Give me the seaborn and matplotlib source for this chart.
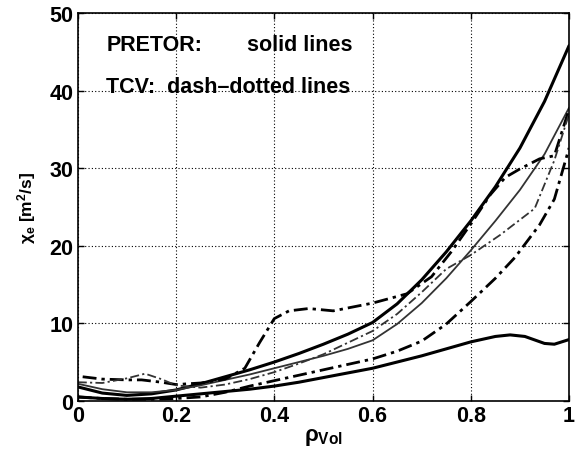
import numpy as np
import pandas as pd
import matplotlib
matplotlib.use("Agg")
import matplotlib.pyplot as plt
import seaborn as sns

# ---- data ----
x_grid = [0.0, 0.05, 0.1, 0.15, 0.2, 0.25, 0.3, 0.35, 0.4, 0.45, 0.5,
          0.55, 0.6, 0.65, 0.7, 0.75, 0.8, 0.85, 0.9, 0.95, 1.0]

pretor_top = [1.8, 1.0, 0.7, 0.9, 1.4, 2.2, 3.1, 4.0, 5.0, 6.1, 7.3,
              8.6, 10.1, 12.5, 15.6, 19.2, 23.2, 27.6, 32.6, 38.6, 45.8]
pretor_mid = [2.2, 1.5, 1.1, 1.1, 1.4, 2.0, 2.7, 3.4, 4.2, 5.0, 5.8,
              6.7, 7.8, 9.9, 12.6, 15.8, 19.4, 23.2, 27.2, 31.8, 37.8]
x_bottom = [0.0, 0.05, 0.1, 0.15, 0.2, 0.25, 0.3, 0.35, 0.4, 0.45, 0.5,
            0.55, 0.6, 0.65, 0.7, 0.75, 0.8, 0.85, 0.88, 0.91, 0.95, 0.97, 1.0]
pretor_bot = [0.5, 0.3, 0.2, 0.3, 0.6, 0.9, 1.2, 1.5, 1.9, 2.4, 3.0,
              3.6, 4.2, 5.0, 5.8, 6.7, 7.6, 8.3, 8.5, 8.3, 7.4, 7.3, 7.9]

x_tcv1 = [0.01, 0.05, 0.1, 0.13, 0.17, 0.2, 0.25, 0.3, 0.34, 0.37, 0.4, 0.43,
          0.47, 0.52, 0.56, 0.6, 0.67, 0.72, 0.76, 0.8, 0.84, 0.87, 0.9,
          0.94, 0.97, 1.0]
tcv1 = [3.1, 2.8, 2.7, 2.7, 2.4, 2.1, 2.3, 2.8, 4.2, 7.5, 10.6, 11.6,
        11.9, 11.6, 12.1, 12.6, 13.8, 16.0, 19.2, 22.8, 26.6, 28.8, 29.9,
        31.2, 31.6, 37.6]

x_tcv2 = [0.0, 0.05, 0.1, 0.137, 0.17, 0.2, 0.25, 0.3, 0.35, 0.4, 0.45, 0.5,
          0.55, 0.6, 0.65, 0.7, 0.75, 0.8, 0.86, 0.93, 0.97, 1.0]
tcv2 = [2.4, 2.3, 2.9, 3.5, 2.8, 2.0, 1.7, 2.1, 2.8, 3.7, 4.8, 6.0,
        7.5, 9.0, 11.2, 14.0, 17.0, 18.8, 21.4, 24.8, 31.0, 37.0]

x_tcv3 = [0.0, 0.05, 0.1, 0.15, 0.2, 0.25, 0.3, 0.35, 0.4, 0.45, 0.5,
          0.55, 0.6, 0.65, 0.7, 0.75, 0.8, 0.85, 0.89, 0.94, 0.97, 1.0]
tcv3 = [0.5, 0.3, 0.2, 0.2, 0.3, 0.5, 1.1, 1.9, 2.6, 3.3, 4.0,
        4.7, 5.4, 6.4, 7.7, 9.9, 12.8, 15.8, 18.5, 22.7, 26.0, 32.6]

x_ticks = [0, 0.2, 0.4, 0.6, 0.8, 1.0]
x_ticklabels = ["0", "0.2", "0.4", "0.6", "0.8", "1"]
y_ticks = [0, 10, 20, 30, 40, 50]
y_ticklabels = ["0", "10", "20", "30", "40", "50"]

# ---- plotting ----
sns.set_style("white")
plt.rcParams["font.family"] = ["Liberation Sans", "DejaVu Sans"]
plt.rcParams["text.color"] = "black"
plt.rcParams["axes.labelcolor"] = "black"
plt.rcParams["xtick.color"] = "black"
plt.rcParams["ytick.color"] = "black"
plt.rcParams["mathtext.fontset"] = "custom"
plt.rcParams["mathtext.rm"] = "Liberation Sans:bold"
plt.rcParams["mathtext.it"] = "Liberation Sans:bold"
plt.rcParams["mathtext.bf"] = "Liberation Sans:bold"

fig = plt.figure(figsize=(5.76, 4.52), dpi=100)
ax = fig.add_axes([0.135, 0.111, 0.853, 0.858])

dashdot = (0, (5, 1.8, 1.2, 1.8))

series = [
    (x_grid, pretor_top, "-", 2.2, "black"),
    (x_grid, pretor_mid, "-", 1.3, "#333333"),
    (x_bottom, pretor_bot, "-", 2.2, "black"),
    (x_tcv1, tcv1, dashdot, 2.0, "black"),
    (x_tcv2, tcv2, dashdot, 1.3, "#333333"),
    (x_tcv3, tcv3, dashdot, 2.0, "black"),
]
for xs, ys, ls, lw, col in series:
    df = pd.DataFrame({"rho": xs, "chi": ys})
    sns.lineplot(data=df, x="rho", y="chi", ax=ax, color=col, linewidth=lw,
                 linestyle=ls, estimator=None, sort=False)

ax.set_xlim(0, 1)
ax.set_ylim(0, 50)
ax.set_xticks(x_ticks)
ax.set_xticklabels(x_ticklabels)
ax.set_yticks(y_ticks)
ax.set_yticklabels(y_ticklabels)
ax.tick_params(direction="in", length=4, width=1, labelsize=15.5, pad=3,
               top=True, right=True, bottom=True, left=True)
for lab in ax.get_xticklabels() + ax.get_yticklabels():
    lab.set_fontweight("bold")
ax.grid(True, linestyle=(0, (1, 2)), color="black", linewidth=0.8)
for sp in ax.spines.values():
    sp.set_color("black")
    sp.set_linewidth(1.2)

ax.set_xlabel(r"$\rho_{\mathrm{Vol}}$", fontsize=16, labelpad=0)
ax.set_ylabel(r"$\chi_{\mathrm{e}}$ [m$^{\mathrm{2}}$/s]", fontsize=12.5,
              fontweight="bold", labelpad=8)

ax.text(0.058, 0.92, "PRETOR:", transform=ax.transAxes, fontsize=15.5,
        fontweight="bold", va="center", ha="left")
ax.text(0.345, 0.92, "solid lines", transform=ax.transAxes, fontsize=15.5,
        fontweight="bold", va="center", ha="left")
ax.text(0.058, 0.81, "TCV:  dash\u2013dotted lines", transform=ax.transAxes,
        fontsize=15.5, fontweight="bold", va="center", ha="left")

fig.savefig("out.png", dpi=100)
